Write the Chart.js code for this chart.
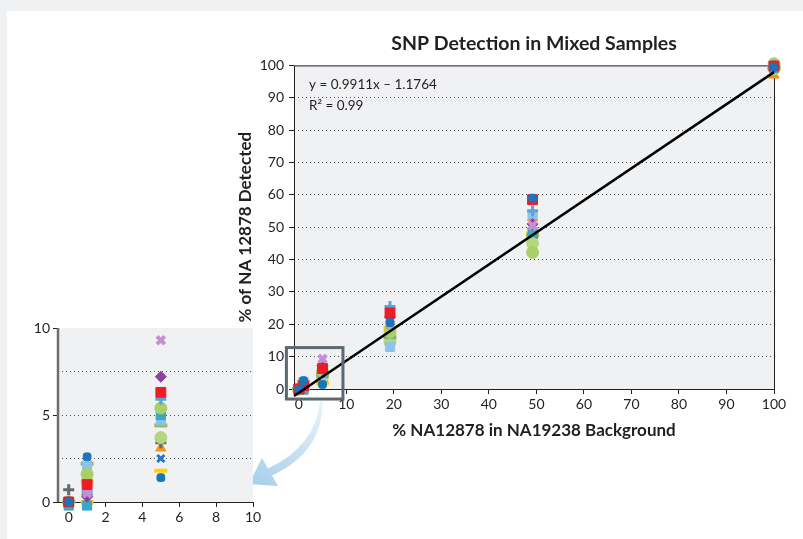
<!DOCTYPE html>
<html>
<head>
<meta charset="utf-8">
<script src="https://cdn.jsdelivr.net/npm/chart.js@4.4.0/dist/chart.umd.min.js"></script>
<style>
  html, body { margin: 0; padding: 0; background: #f0f1f3; }
  #panel { position: absolute; left: 7px; top: 11px; right: 0; bottom: 0; background: #fff; }
  #mainWrap { position: absolute; left: 0; top: 0; width: 803px; height: 539px; }
  #insetWrap { position: absolute; left: 20px; top: 315px; width: 245px; height: 215px; }
</style>
</head>
<body>
<div id="panel"></div>
<div id="mainWrap"><canvas id="mainChart"></canvas></div>
<div id="insetWrap"><canvas id="insetChart"></canvas></div>
<script>
// mixing levels (% NA12878) as placed in the picture
const mixLevels = [0, 1, 5, 19.2, 49.2, 100];

// % detected, one array per sample series
const blueDot       = [0.0, 2.6, 1.4, 20.5, 59.0, 99.5];
const redSquare     = [0.0, 1.0, 6.3, 23.5, 58.5, 99.8];
const lilacX        = [0.0, 0.5, 9.3, 20.0, 50.5, 99.5];
const purpleDiamond = [0.0, 0.3, 7.2, 22.2, 51.0, 99.6];
const lightBluePlus = [0.0, 0.6, 5.9, 25.5, 55.0, 100.0];
const greenCircle   = [0.0, 1.6, 5.4, 17.5, 42.2, 100.5];
const tealSquare    = [-0.2, -0.2, 5.0, 17.2, 48.5, 99.2];
const lightBlueSq   = [0.0, 2.1, 4.7, 13.0, 54.0, 99.5];
const oliveDash     = [0.0, 2.2, 4.4, 16.0, 47.5, 99.3];
const greenCircle2  = [0.0, 1.2, 3.7, 14.6, 45.0, 99.0];
const grayPlus      = [0.7, 0.4, 3.4, 14.1, 46.9, 99.0];
const orangeTri     = [0.0, 0.0, 3.1, 18.7, 53.0, 97.0];
const blueX         = [0.0, 0.8, 2.5, 19.5, 51.5, 99.7];
const yellowDash    = [0.0, 0.0, 1.8, 19.0, 48.0, 99.0];

// linear fit y = 0.9911x - 1.1764
const trendX = [-1, 100];
const trendY = [-2.17, 97.93];

const xTicksMain  = [0, 10, 20, 30, 40, 50, 60, 70, 80, 90, 100];
const xTicksInset = [0, 2, 4, 6, 8, 10];
const zoomBox = { xMin: -2.6, xMax: 9.3, yMin: -3.1, yMax: 12.8 };

const FONT = 'Lato, "Open Sans", sans-serif';
const INK = '#231f20';
const PLOT_BG = '#f0f1f3';

const seriesDefs = [
    { values: blueDot,       color: '#1b75bb', style: 'rectRounded', r: 4.5, w: 1 },
    { values: redSquare,     color: '#ed1c24', style: 'rect',        r: 7,   w: 1 },
    { values: lilacX,        color: '#c58fd6', style: 'crossRot',    r: 5.5, w: 4 },
    { values: purpleDiamond, color: '#8e3fa5', style: 'rectRot',     r: 5.5, w: 1 },
    { values: lightBluePlus, color: '#5ba3dc', style: 'cross',       r: 5.5, w: 3 },
    { values: greenCircle,   color: '#a8cf68', style: 'circle',      r: 6,   w: 1 },
    { values: tealSquare,    color: '#3aa7c3', style: 'rect',        r: 6.5, w: 1 },
    { values: lightBlueSq,   color: '#8cc4e8', style: 'rect',        r: 6.5, w: 1 },
    { values: oliveDash,     color: '#9fb65f', style: 'line',        r: 6.5, w: 4 },
    { values: greenCircle2,  color: '#b5d57f', style: 'circle',      r: 6,   w: 1 },
    { values: grayPlus,      color: '#5d6a72', style: 'cross',       r: 5.5, w: 3 },
    { values: orangeTri,     color: '#f7941d', style: 'triangle',    r: 6,   w: 1 },
    { values: blueX,         color: '#1f78c8', style: 'crossRot',    r: 5,   w: 3 },
    { values: yellowDash,    color: '#ffd200', style: 'line',        r: 6.5, w: 4 },
];

function pointDatasets(clip) {
    return seriesDefs.map(s => ({
        data: mixLevels.map((x, i) => ({ x, y: s.values[i] })),
        pointStyle: s.style,
        pointRadius: s.r,
        pointBorderWidth: s.w,
        backgroundColor: s.color,
        borderColor: s.color,
        showLine: false,
        clip,
    }));
}

const plotArea = {
    id: 'plotArea',
    beforeDraw(chart, args, opts) {
        const { ctx, chartArea: a } = chart;
        ctx.save();
        ctx.fillStyle = PLOT_BG;
        ctx.fillRect(a.left, a.top, a.right - a.left, a.bottom - a.top);
        ctx.restore();
    },
    beforeDatasetsDraw(chart, args, opts) {
        const { ctx, chartArea: a } = chart;
        ctx.save();
        ctx.strokeStyle = INK;
        ctx.lineWidth = 1;
        if (opts.box) {
            ctx.strokeRect(a.left + 0.5, a.top + 0.5, a.right - a.left, a.bottom - a.top);
        } else {
            ctx.beginPath();
            ctx.moveTo(a.left, a.bottom + 0.5);
            ctx.lineTo(a.right, a.bottom + 0.5);
            ctx.stroke();
            ctx.strokeStyle = '#6d6e71';
            ctx.lineWidth = 2.5;
            ctx.beginPath();
            ctx.moveTo(a.left, a.top);
            ctx.lineTo(a.left, a.bottom);
            ctx.stroke();
        }
        ctx.restore();
    }
};

const annotations = {
    id: 'annotations',
    afterDatasetsDraw(chart) {
        const { ctx, chartArea: a, scales: { x, y } } = chart;
        ctx.save();
        // fit equation
        ctx.fillStyle = INK;
        ctx.font = '13.5px ' + FONT;
        ctx.textBaseline = 'middle';
        ctx.fillText('y = 0.9911x \u2013 1.1764', a.left + 15, a.top + 19);
        ctx.fillText('R\u00b2 = 0.99', a.left + 15, a.top + 40);

        // arrow to inset
        const g = ctx.createLinearGradient(320, 400, 252, 484);
        g.addColorStop(0, '#e6f2fa');
        g.addColorStop(1, '#a7cfea');
        ctx.fillStyle = g;
        ctx.beginPath();
        ctx.moveTo(320, 401);
        ctx.quadraticCurveTo(316, 446, 268, 468.5);
        ctx.lineTo(262, 458);
        ctx.lineTo(249, 484);
        ctx.lineTo(278, 486);
        ctx.lineTo(272, 475.5);
        ctx.quadraticCurveTo(323, 452, 322.5, 401);
        ctx.closePath();
        ctx.fill();

        // zoom frame
        const l = x.getPixelForValue(zoomBox.xMin), r = x.getPixelForValue(zoomBox.xMax);
        const t = y.getPixelForValue(zoomBox.yMax), b = y.getPixelForValue(zoomBox.yMin);
        ctx.strokeStyle = '#5d6970';
        ctx.lineWidth = 3;
        ctx.strokeRect(l, t, r - l, b - t);
        ctx.restore();
    }
};

const tickFont = { family: FONT, size: 14 };
const titleFont = { family: FONT, size: 17, weight: 'bold' };

new Chart(document.getElementById('mainChart'), {
    type: 'scatter',
    data: {
        datasets: [
            {
                data: trendX.map((x, i) => ({ x, y: trendY[i] })),
                showLine: true,
                borderColor: '#000',
                borderWidth: 2.5,
                pointRadius: 0,
                clip: false,
            },
            ...pointDatasets(false),
        ]
    },
    options: {
        animation: false,
        responsive: true,
        maintainAspectRatio: false,
        layout: { padding: { left: 225, right: 29, top: 20, bottom: 89 } },
        plugins: {
            legend: { display: false },
            tooltip: { enabled: false },
            plotArea: { box: true },
            title: {
                display: true,
                text: 'SNP Detection in Mixed Samples',
                fullSize: false,
                color: INK,
                font: { family: FONT, size: 19.5, weight: 'bold' },
                padding: { top: 12, bottom: 10 },
            },
        },
        scales: {
            x: {
                type: 'linear',
                min: -1,
                max: 100,
                afterBuildTicks: s => { s.ticks = xTicksMain.map(v => ({ value: v })); },
                afterFit: s => { s.height = 61; },
                grid: { drawOnChartArea: false, tickLength: 5, tickColor: INK },
                border: { display: false },
                ticks: { padding: 2, color: INK, font: tickFont, maxRotation: 0 },
                title: {
                    display: true, text: '% NA12878 in NA19238 Background',
                    color: INK, font: titleFont, padding: { top: 0, bottom: 9 },
                },
            },
            y: {
                min: 0,
                max: 100,
                afterFit: s => { s.width = 69; },
                grid: {
                    color: c => (c.tick.value === 0 || c.tick.value === 100) ? 'rgba(0,0,0,0)' : '#4d4d4d',
                    tickColor: INK,
                    tickLength: 5,
                },
                border: { display: false, dash: [1, 3] },
                ticks: { stepSize: 10, padding: 5, color: INK, font: tickFont },
                title: {
                    display: true, text: '% of NA 12878 Detected',
                    color: INK, font: titleFont, padding: { top: 10, bottom: 0 },
                },
            },
        },
    },
    plugins: [plotArea, annotations],
});

new Chart(document.getElementById('insetChart'), {
    type: 'scatter',
    data: { datasets: pointDatasets({ left: 10, right: 0, top: 0, bottom: 10 }) },
    options: {
        animation: false,
        responsive: true,
        maintainAspectRatio: false,
        layout: { padding: { left: 0, right: 12, top: 13, bottom: 0 } },
        plugins: {
            legend: { display: false },
            tooltip: { enabled: false },
            plotArea: { box: false },
        },
        scales: {
            x: {
                type: 'linear',
                min: -0.58,
                max: 10,
                afterBuildTicks: s => { s.ticks = xTicksInset.map(v => ({ value: v })); },
                afterFit: s => { s.height = 28; },
                grid: { drawOnChartArea: false, tickLength: 5, tickColor: INK },
                border: { display: false },
                ticks: { padding: 2, color: INK, font: tickFont, maxRotation: 0 },
            },
            y: {
                min: 0,
                max: 10,
                afterFit: s => { s.width = 38; },
                grid: {
                    color: c => (c.tick.value === 0 || c.tick.value === 10) ? 'rgba(0,0,0,0)' : '#4d4d4d',
                    tickColor: c => c.tick.value % 5 === 0 ? INK : 'rgba(0,0,0,0)',
                    tickLength: 5,
                },
                border: { display: false, dash: [1, 3] },
                ticks: {
                    stepSize: 2.5, padding: 3, color: INK, font: tickFont,
                    callback: v => v % 5 === 0 ? v : '',
                },
            },
        },
    },
    plugins: [plotArea],
});
</script>
</body>
</html>
